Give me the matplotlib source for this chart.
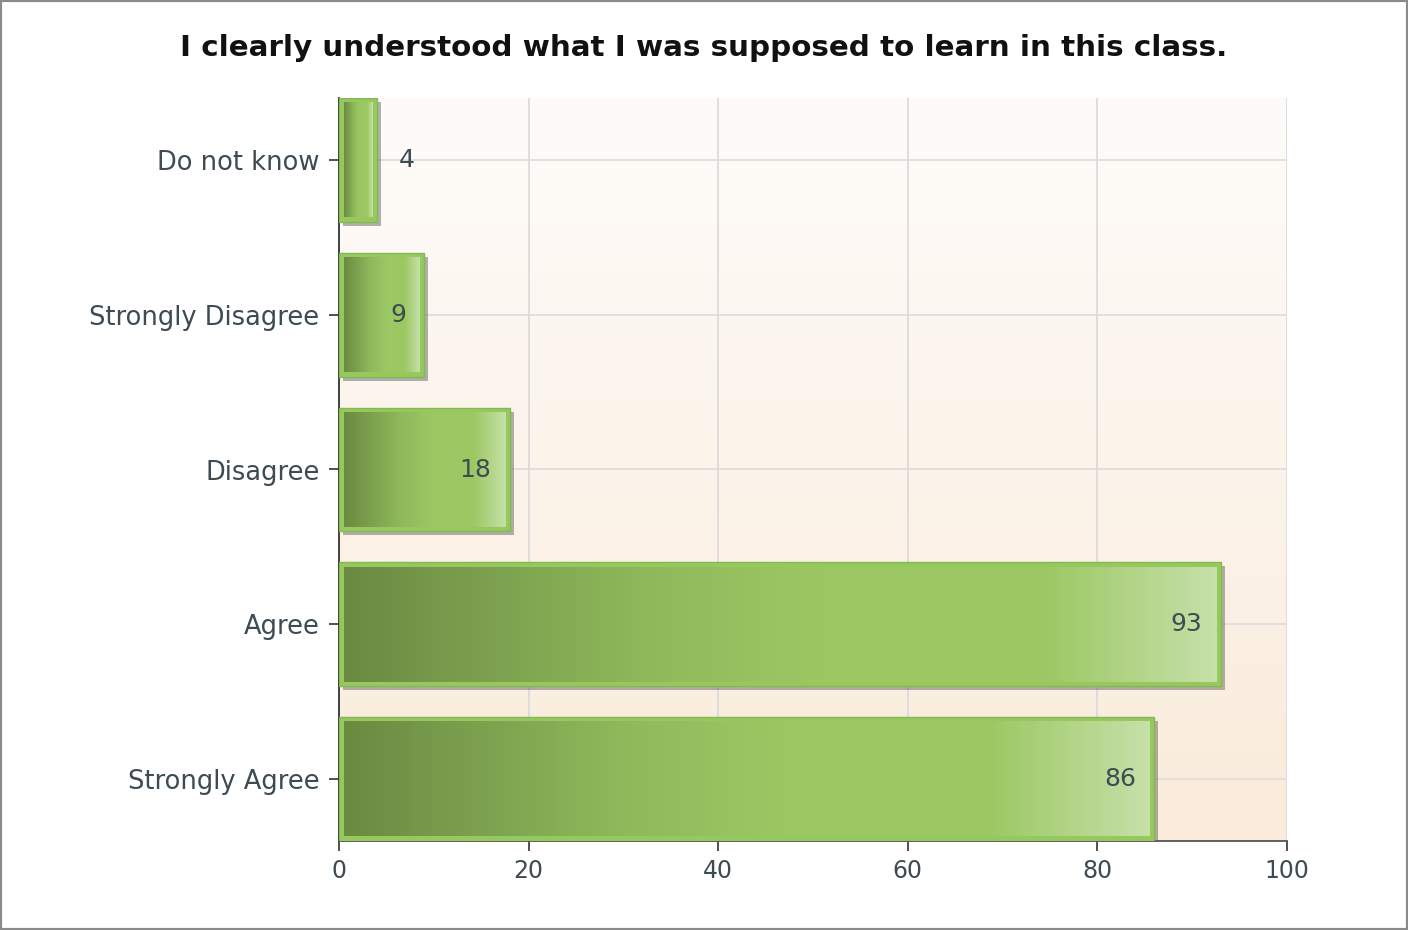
import matplotlib
matplotlib.use('Agg')
import matplotlib.pyplot as plt
import matplotlib.transforms as mtransforms
from matplotlib.patches import Rectangle
from matplotlib.colors import LinearSegmentedColormap
import numpy as np

plt.rcParams['font.family'] = ['DejaVu Sans']

categorias = ['Strongly Agree', 'Agree', 'Disagree', 'Strongly Disagree', 'Do not know']
valores = [86, 93, 18, 9, 4]
titulo = 'I clearly understood what I was supposed to learn in this class.'
xticks = [0, 20, 40, 60, 80, 100]

cor_texto = '#3d4b52'
verde = LinearSegmentedColormap.from_list(
    'verde', [(0, '#6a8a40'), (0.1, '#76984a'), (0.35, '#8fb95b'),
              (0.55, '#9cc863'), (0.8, '#9cc863'), (1.0, '#c6e0a8')])
fundo = LinearSegmentedColormap.from_list('fundo', ['#faebda', '#fefcfa'])

fig = plt.figure(figsize=(14.08, 9.3), dpi=100)
ax = fig.add_axes([339/1408, 1-841/930, 948/1408, 743/930])

# fundo em degrade
grad = np.linspace(0, 1, 256).reshape(-1, 1)
ax.imshow(grad, cmap=fundo, aspect='auto', extent=(0, 1, 0, 1),
          transform=ax.transAxes, origin='lower', zorder=0)

for x in xticks[1:]:
    ax.axvline(x, color='#d9d9d9', lw=1.2, zorder=1)
for y in range(len(categorias)):
    ax.axhline(y, color='#dcdcdc', lw=1.2, zorder=1)

sombra = mtransforms.offset_copy(ax.transData, fig=fig, x=4, y=-4, units='dots')
h = 0.8
dx = 0.5
dy = 0.03
for i, v in enumerate(valores):
    y0 = i - h/2
    ax.add_patch(Rectangle((0, y0), v, h, facecolor='#555555', alpha=0.45,
                           edgecolor='none', transform=sombra, zorder=2))
    ax.add_patch(Rectangle((0, y0), v, h, facecolor='#95c95e',
                           edgecolor='#86b852', lw=1, zorder=3))
    g = np.linspace(0, 1, 256).reshape(1, -1)
    ax.imshow(g, cmap=verde, aspect='auto',
              extent=(dx, v - dx, y0 + dy, y0 + h - dy), zorder=4)
    if v < 6:
        ax.annotate(str(v), (v, i), xytext=(16, 0), textcoords='offset points',
                    ha='left', va='center', fontsize=18, color=cor_texto, zorder=5)
    else:
        ax.annotate(str(v), (v, i), xytext=(-13, 0), textcoords='offset points',
                    ha='right', va='center', fontsize=18, color=cor_texto, zorder=5)

ax.set_xlim(0, 100)
ax.set_ylim(-0.4, len(categorias) - 0.6)
ax.set_yticks(range(len(categorias)))
ax.set_yticklabels(categorias)
ax.set_xticks(xticks)
ax.tick_params(axis='both', colors='#333333', labelcolor=cor_texto, labelsize=18.5,
               length=7, width=1.2)
ax.tick_params(axis='y', pad=7)
ax.tick_params(axis='x', pad=6, labelsize=17)
for s in ['top', 'right']:
    ax.spines[s].set_visible(False)
ax.spines['left'].set_color('#333333')
ax.spines['bottom'].set_color('#555555')
ax.spines['left'].set_linewidth(1.3)
ax.spines['bottom'].set_linewidth(1.3)

fig.text(0.5, 1 - 48/930, titulo, ha='center', va='center', fontsize=21.2,
         fontweight='bold', color='#111111')

fig.patches.append(Rectangle((0, 0), 1, 1, transform=fig.transFigure, fill=False,
                             edgecolor='#8a8a8a', lw=3))

fig.savefig('out.png', dpi=100)
